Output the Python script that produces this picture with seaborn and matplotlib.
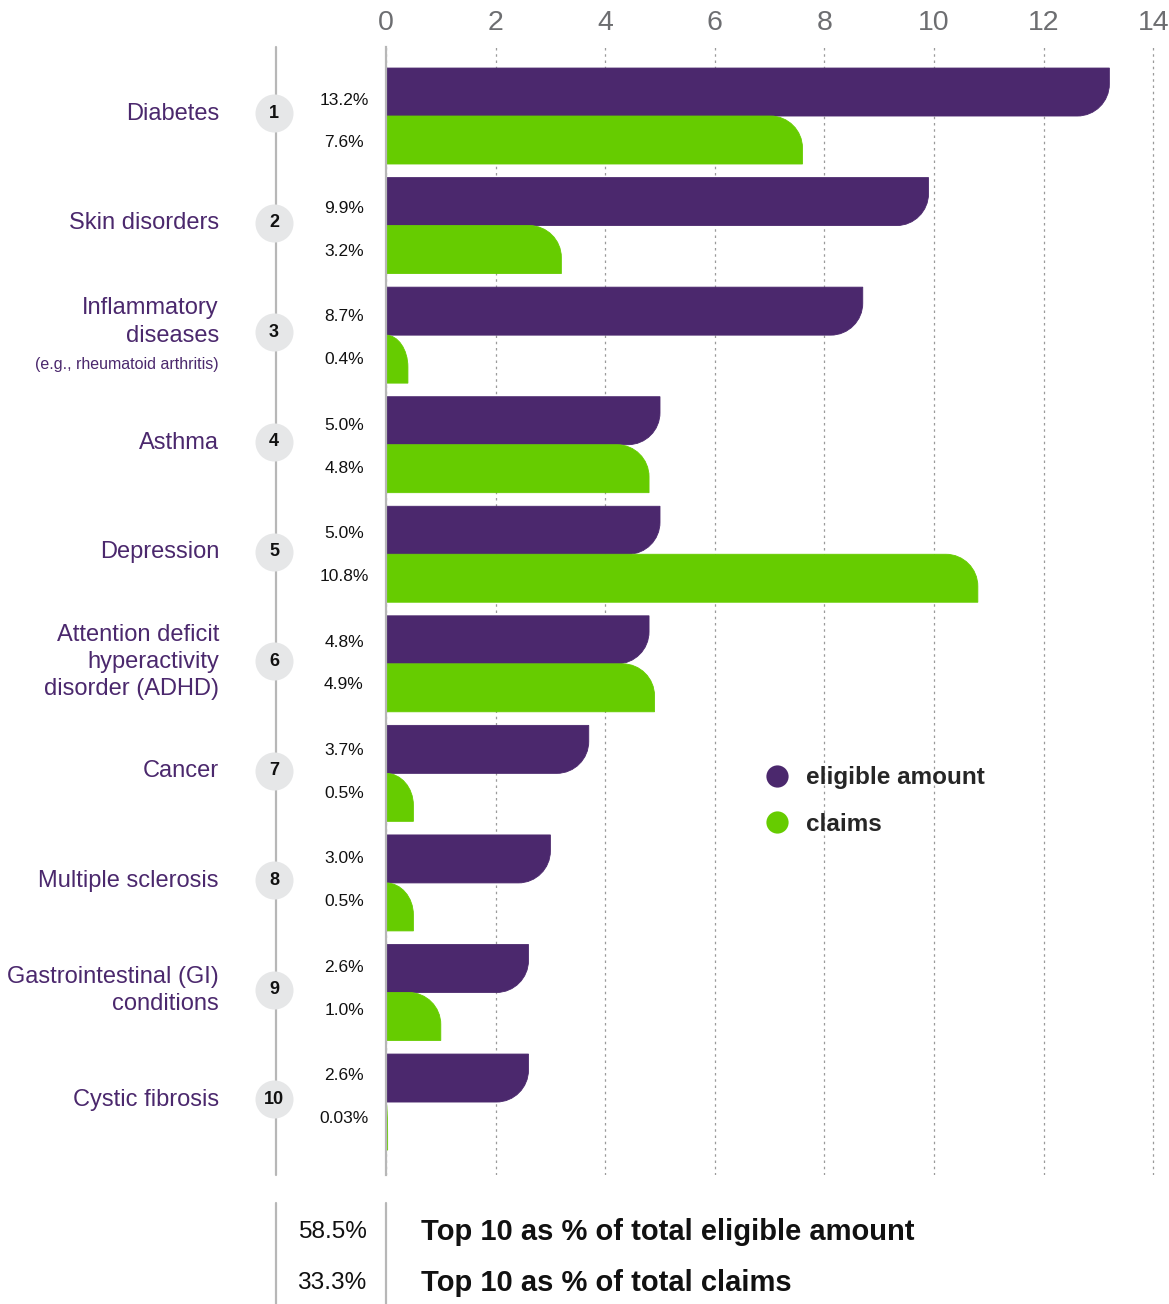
import matplotlib
matplotlib.use("Agg")
import matplotlib.pyplot as plt
import matplotlib.transforms as mtransforms
from matplotlib.path import Path
from matplotlib.patches import PathPatch, Rectangle
from matplotlib.lines import Line2D
import numpy as np
import pandas as pd
import seaborn as sns

# ---------------- data ----------------
conditions = ["Diabetes", "Skin disorders", "Inflammatory diseases", "Asthma",
              "Depression", "ADHD", "Cancer", "Multiple sclerosis",
              "GI conditions", "Cystic fibrosis"]
display_labels = ["Diabetes", "Skin disorders", "Inflammatory\ndiseases", "Asthma",
                  "Depression", "Attention deficit\nhyperactivity\ndisorder (ADHD)",
                  "Cancer", "Multiple sclerosis", "Gastrointestinal (GI)\nconditions",
                  "Cystic fibrosis"]
sub_labels = {2: "(e.g., rheumatoid arthritis)"}
ranks = ["1", "2", "3", "4", "5", "6", "7", "8", "9", "10"]
eligible = [13.2, 9.9, 8.7, 5.0, 5.0, 4.8, 3.7, 3.0, 2.6, 2.6]
claims = [7.6, 3.2, 0.4, 4.8, 10.8, 4.9, 0.5, 0.5, 1.0, 0.03]
eligible_labels = ["13.2%", "9.9%", "8.7%", "5.0%", "5.0%", "4.8%", "3.7%", "3.0%", "2.6%", "2.6%"]
claims_labels = ["7.6%", "3.2%", "0.4%", "4.8%", "10.8%", "4.9%", "0.5%", "0.5%", "1.0%", "0.03%"]
series_names = ["eligible amount", "claims"]
x_ticks = [0, 2, 4, 6, 8, 10, 12, 14]
summary_values = ["58.5%", "33.3%"]
summary_texts = ["Top 10 as % of total eligible amount", "Top 10 as % of total claims"]

PURPLE = "#4B286D"
GREEN = "#66CC00"
GRAY_LINE = "#b7b7b7"

# ---------------- style ----------------
sns.set_theme(style="white")
plt.rcParams["font.family"] = ["Liberation Sans", "DejaVu Sans"]

W, H = 1169, 1304
fig = plt.figure(figsize=(W / 100, H / 100), dpi=100)
X0, YT, YB = 386, 47, 1175
PX_PER_UNIT = 54.8
ax = fig.add_axes([X0 / W, 1 - YB / H, (W - X0) / W, (YB - YT) / H])

df = pd.DataFrame({
    "condition": conditions * 2,
    "series": [series_names[0]] * len(conditions) + [series_names[1]] * len(conditions),
    "value": eligible + claims,
})

sns.barplot(data=df, y="condition", x="value", hue="series", orient="h",
            palette=[PURPLE, GREEN], width=0.876, saturation=1, errorbar=None,
            legend=False, ax=ax)

XMAX = (W - X0) / PX_PER_UNIT
YLIM = (9.666, -0.63)
ax.set_xlim(0, XMAX)
ax.set_ylim(*YLIM)

# ---- round the outer corner of each bar (corner next to group centre) ----
R = 32.0
px_x = (W - X0) / XMAX
px_y = (YB - YT) / abs(YLIM[0] - YLIM[1])
k = 0.5523
for p in list(ax.patches):
    if not isinstance(p, Rectangle):
        continue
    x0, w = p.get_x(), p.get_width()
    y0, h = p.get_y(), p.get_height()
    if w <= 0:
        continue
    fc = p.get_facecolor()
    i = round(y0 + h / 2)
    ya, yb = y0, y0 + h
    y_far, y_near = (ya, yb) if abs(ya - i) > abs(yb - i) else (yb, ya)
    s = np.sign(y_near - y_far)
    x1 = x0 + w
    rx = min(R / px_x, w)
    ry = min(R / px_y, abs(h))
    verts = [(x0, y_far), (x1, y_far), (x1, y_near - s * ry),
             (x1, y_near - s * ry + s * k * ry), (x1 - rx + k * rx, y_near), (x1 - rx, y_near),
             (x0, y_near), (x0, y_far)]
    codes = [Path.MOVETO, Path.LINETO, Path.LINETO, Path.CURVE4, Path.CURVE4, Path.CURVE4,
             Path.LINETO, Path.CLOSEPOLY]
    pp = PathPatch(Path(verts, codes), facecolor=fc, edgecolor=fc, linewidth=0.6,
                   zorder=p.get_zorder())
    p.remove()
    ax.add_patch(pp)

ax.set_xlim(0, XMAX)
ax.set_ylim(*YLIM)

# ---- axes styling ----
ax.xaxis.tick_top()
ax.set_xticks(x_ticks)
ax.set_xticklabels([str(t) for t in x_ticks])
ax.tick_params(axis="x", length=0, pad=8, labelsize=20.5, labelcolor="#6d6e71")
ax.set_yticks([])
ax.set_xlabel("")
ax.set_ylabel("")
ax.grid(axis="x", color="#9a9a9a", linestyle=(0, (2, 3)), linewidth=0.9)
ax.grid(axis="y", visible=False)
ax.set_axisbelow(True)
for side in ["top", "right", "bottom"]:
    ax.spines[side].set_visible(False)
ax.spines["left"].set_color(GRAY_LINE)
ax.spines["left"].set_linewidth(1.6)
ax.spines["left"].set_zorder(5)

trans = mtransforms.blended_transform_factory(ax.transAxes, ax.transData)

def ax_x(px):
    return (px - X0) / (W - X0)

# vertical rank line
ax.plot([ax_x(276), ax_x(276)], [0, 1], transform=ax.transAxes, color=GRAY_LINE,
        lw=1.6, clip_on=False, zorder=1)

ypos = list(range(len(conditions)))
ax.scatter([ax_x(274)] * len(ypos), [y - 0.025 for y in ypos], s=750, color="#e6e7e8",
           transform=trans, clip_on=False, zorder=3, linewidths=0)

for i in ypos:
    ax.text(ax_x(274), i - 0.025, ranks[i], transform=trans, ha="center", va="center",
            fontsize=13, fontweight="bold", color="#111111", zorder=4)
    if i in sub_labels:
        ax.text(ax_x(219), i - 0.12, display_labels[i], transform=trans, ha="right",
                va="center", fontsize=17, color=PURPLE, linespacing=1.3)
        ax.text(ax_x(219), i + 0.265, sub_labels[i], transform=trans, ha="right",
                va="center", fontsize=11.5, color=PURPLE)
    else:
        ax.text(ax_x(219), i - 0.02, display_labels[i], transform=trans, ha="right",
                va="center", fontsize=17, color=PURPLE, linespacing=1.3)
    ax.text(ax_x(344), i - 0.146 - 0.0106 * i, eligible_labels[i], transform=trans,
            ha="center", va="center", fontsize=12.5, color="#111111")
    ax.text(ax_x(344), i + 0.246 - 0.0106 * i, claims_labels[i], transform=trans,
            ha="center", va="center", fontsize=12.5, color="#111111")

# ---- legend ----
handles = [Line2D([], [], marker="o", ls="none", markersize=16, markerfacecolor=c,
                  markeredgecolor="none", label=n)
           for c, n in zip([PURPLE, GREEN], series_names)]
ax.legend(handles=handles, loc="center left", bbox_to_anchor=(765 / W, 1 - 801 / H),
          bbox_transform=fig.transFigure, frameon=False,
          prop={"weight": "bold", "size": 17.5}, handlelength=1.0, handletextpad=0.69,
          labelspacing=0.97, borderpad=0, borderaxespad=0)

# ---- bottom summary ----
for xpx in [276, 386]:
    fig.add_artist(Line2D([xpx / W, xpx / W], [1 - 1203 / H, 0], transform=fig.transFigure,
                          color=GRAY_LINE, lw=1.6))
for j, ypx in enumerate([1232, 1283]):
    fig.text(332 / W, 1 - ypx / H, summary_values[j], ha="center", va="center",
             fontsize=17.6, color="#111111")
    fig.text(421 / W, 1 - ypx / H, summary_texts[j], ha="left", va="center",
             fontsize=21, fontweight="bold", color="#111111")

fig.savefig("out.png", dpi=100)
